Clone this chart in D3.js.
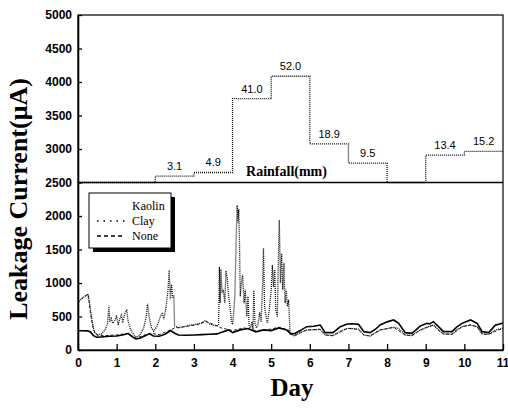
<!DOCTYPE html>
<html><head><meta charset="utf-8">
<script src="https://cdn.jsdelivr.net/npm/d3@7"></script>
<style>
html,body{margin:0;padding:0;background:#fff;}
svg{display:block;}
</style></head>
<body>
<svg id="chart" width="508" height="408"></svg>
<script>
// ---- data ----
const dayTicks = [0,1,2,3,4,5,6,7,8,9,10,11];
const yTicks = [0,500,1000,1500,2000,2500,3000,3500,4000,4500,5000];
const seriesNames = ["Kaolin","Clay","None"];

// rainfall per day (day i to i+1), mm
const rainStartDays = [0,1,2,3,4,5,6,7,8,9,10];
const rainfall = [0,0,3.1,4.9,41.0,52.0,18.9,9.5,0,13.4,15.2];

// leakage current (uA), [day, value]
const kaolin = [[0,288],[0.1,288],[0.25,285],[0.32,270],[0.4,215],[0.48,190],[0.6,195],[0.8,205],[1.0,210],[1.15,225],[1.3,245],[1.4,200],[1.5,165],[1.6,175],[1.75,215],[1.85,245],[1.95,210],[2.1,205],[2.25,235],[2.4,290],[2.5,250],[2.6,225],[2.8,220],[3.0,225],[3.2,230],[3.4,235],[3.6,240],[3.7,260],[3.9,300],[4.0,260],[4.2,300],[4.4,320],[4.6,270],[4.8,300],[5.0,290],[5.2,330],[5.4,300],[5.49,249],
[5.6,243],[5.75,290],[5.92,348],[6.1,355],[6.27,373],[6.4,259],[6.6,259],[6.79,348],[6.97,388],[7.1,392],[7.26,383],[7.4,274],[7.56,259],[7.7,310],[7.82,373],[8.0,420],[8.17,448],[8.3,398],[8.47,259],[8.64,249],[8.75,300],[8.86,358],[9.03,398],[9.1,390],[9.2,423],[9.33,348],[9.46,274],[9.68,274],[9.8,340],[9.94,398],[10.16,448],[10.33,398],[10.46,274],[10.63,259],[10.8,370],[10.98,398],[11,405]];

const clay = [[0,700],[0.05,740],[0.1,770],[0.15,790],[0.2,810],[0.26,835],[0.3,700],[0.34,520],[0.38,380],[0.43,260],[0.5,230],[0.6,235],[0.7,300],[0.76,380],[0.8,660],[0.82,420],[0.86,470],[0.9,400],[0.95,440],[1.0,500],[1.04,370],[1.08,460],[1.12,520],[1.16,430],[1.22,560],[1.26,590],[1.3,420],[1.38,280],[1.5,190],[1.6,220],[1.7,330],[1.76,480],[1.8,690],[1.84,500],[1.9,330],[1.96,280],[2.05,360],[2.12,480],[2.18,560],[2.22,460],[2.28,640],[2.33,900],[2.36,1190],[2.39,760],[2.42,980],[2.45,780],[2.48,820],[2.5,360],[2.6,330],[2.75,350],[2.9,370],[3.05,385],[3.2,400],[3.3,440],[3.4,390],[3.5,370],[3.6,360],[3.64,380],[3.66,1240],[3.68,700],[3.7,1210],[3.73,850],[3.76,900],[3.8,700],[3.83,1180],[3.86,1080],[3.9,800],[3.94,620],[3.97,450],[4.0,380],[4.03,560],[4.06,800],[4.1,1800],[4.12,2160],[4.14,1900],[4.16,2100],[4.18,1600],[4.2,800],[4.23,1000],[4.26,1120],[4.3,700],[4.33,900],[4.37,500],[4.4,800],[4.43,350],[4.47,330],[4.5,420],[4.53,300],[4.55,890],[4.58,400],[4.62,330],[4.66,380],[4.7,560],[4.74,420],[4.78,1000],[4.8,1520],[4.83,640],[4.87,500],[4.9,400],[4.95,600],[5.0,900],[5.03,1270],[5.06,940],[5.09,1200],[5.12,600],[5.16,500],[5.19,1500],[5.21,1940],[5.24,1000],[5.27,1440],[5.3,900],[5.33,1300],[5.36,700],[5.39,900],[5.42,650],[5.45,750],[5.49,240],
[5.6,214],[5.75,260],[5.92,299],[6.1,300],[6.27,309],[6.4,224],[6.6,214],[6.79,280],[6.97,323],[7.1,320],[7.26,309],[7.4,224],[7.56,209],[7.7,260],[7.82,299],[8.0,320],[8.17,338],[8.3,320],[8.47,224],[8.64,214],[8.75,260],[8.86,299],[9.03,338],[9.2,373],[9.33,299],[9.46,239],[9.68,234],[9.8,300],[9.94,348],[10.16,373],[10.33,348],[10.46,239],[10.63,234],[10.8,300],[10.98,323],[11,325]];

const none = [[0,700],[0.1,770],[0.2,810],[0.26,835],[0.32,560],[0.4,300],[0.5,215],[0.7,215],[1.0,225],[1.3,250],[1.5,175],[1.7,220],[1.9,250],[2.1,230],[2.4,300],[2.5,330],[2.8,350],[3.1,380],[3.3,430],[3.6,360],[3.7,330],[4.0,290],[4.3,330],[4.6,290],[4.9,300],[5.2,340],[5.45,300],[5.49,240],
[5.6,214],[5.92,299],[6.27,309],[6.4,224],[6.6,214],[6.97,323],[7.26,309],[7.4,224],[7.56,209],[7.82,299],[8.17,338],[8.47,224],[8.64,214],[8.86,299],[9.03,338],[9.2,373],[9.33,299],[9.46,239],[9.68,234],[9.94,348],[10.16,373],[10.33,348],[10.46,239],[10.63,234],[10.98,323],[11,325]];

// ---- layout ----
const svg = d3.select("#chart");
const L = 78, R = 503, T = 15, B = 350;
const x = d3.scaleLinear().domain([0,11]).range([L,R]);
const y = d3.scaleLinear().domain([0,5000]).range([B,T]);
const rainMax = 2500/30.5;
const yRain = d3.scaleLinear().domain([0,rainMax]).range([y(2500),y(5000)]);

const tickFont = "Liberation Sans, Arial, sans-serif";
const serif = "Liberation Serif, Times New Roman, serif";

// series
const line = d3.line().x(d=>x(d[0])).y(d=>y(d[1]));
const g = svg.append("g");
g.append("path").datum(none).attr("d",line).attr("fill","none")
 .attr("stroke","#222").attr("stroke-width",1).attr("stroke-dasharray","3,2");
g.append("path").datum(clay).attr("d",line).attr("fill","none")
 .attr("stroke","#111").attr("stroke-width",1.3).attr("stroke-dasharray","1,1");
g.append("path").datum(kaolin).attr("d",line).attr("fill","none")
 .attr("stroke","#000").attr("stroke-width",1.6);

// rainfall step line
const rainPts = rainStartDays.map((d,i)=>[d,rainfall[i]]).concat([[11,rainfall[rainfall.length-1]]]);
const rainLine = d3.line().x(d=>x(d[0])).y(d=>yRain(d[1])).curve(d3.curveStepAfter);
g.append("path").datum(rainPts).attr("d",rainLine).attr("fill","none")
 .attr("stroke","#111").attr("stroke-width",1.3).attr("stroke-dasharray","1,1");

g.selectAll("text.rain").data(rainStartDays.map((d,i)=>[d,rainfall[i]]).filter(d=>d[1]>0))
 .enter().append("text").attr("class","rain")
 .attr("x",d=>x(d[0]+0.5)).attr("y",d=>yRain(d[1])-6)
 .attr("text-anchor","middle").attr("font-family",tickFont).attr("font-size",11)
 .text(d=>d3.format(".1f")(d[1]));

svg.append("text").attr("x",286.5).attr("y",176).attr("text-anchor","middle")
 .attr("font-family",serif).attr("font-weight","bold").attr("font-size",14)
 .text("Rainfall(mm)");

// frame + divider
svg.append("rect").attr("x",L).attr("y",T).attr("width",R-L).attr("height",B-T)
 .attr("fill","none").attr("stroke","#000").attr("stroke-width",1.2);
svg.append("line").attr("x1",L).attr("x2",R).attr("y1",y(2500)).attr("y2",y(2500))
 .attr("stroke","#000").attr("stroke-width",1.6);

// axes
const yAxis = d3.axisLeft(y).tickValues(yTicks).tickSize(-4).tickSizeOuter(0).tickPadding(6).tickFormat(d3.format("d"));
const ya = svg.append("g").attr("transform",`translate(${L},0)`).call(yAxis);
const xAxis = d3.axisBottom(x).tickValues(dayTicks).tickSize(-6).tickSizeOuter(0).tickPadding(8).tickFormat(d3.format("d"));
const xa = svg.append("g").attr("transform",`translate(0,${B})`).call(xAxis);
[ya,xa].forEach(a=>{
  a.select(".domain").attr("stroke","#000").attr("stroke-width",1.6);
  a.selectAll(".tick line").attr("stroke","#000").attr("stroke-width",1.3);
  a.selectAll("text").attr("font-family",tickFont).attr("font-size",12).attr("font-weight","bold").attr("fill","#000");
});
// keep the last day label inside the picture
xa.selectAll(".tick").filter(d=>d===11).select("text").attr("text-anchor","end").attr("dx","6");

// legend
const lg = svg.append("g");
lg.append("rect").attr("x",93).attr("y",197).attr("width",82).attr("height",55).attr("fill","#000");
lg.append("rect").attr("x",89).attr("y",193).attr("width",82).attr("height",55).attr("fill","#fff").attr("stroke","#000").attr("stroke-width",1);
const legStyles = [null,"1.5,5","4,3"];
seriesNames.forEach((n,i)=>{
  const by = 210 + i*15;
  if(legStyles[i]) lg.append("line").attr("x1",97).attr("x2",125).attr("y1",by-4).attr("y2",by-4)
     .attr("stroke","#000").attr("stroke-width",1.3).attr("stroke-dasharray",legStyles[i]);
  lg.append("text").attr("x",132).attr("y",by).attr("font-family",serif).attr("font-size",12).text(n);
});

// titles
svg.append("text").attr("x",292).attr("y",396).attr("text-anchor","middle")
 .attr("font-family",serif).attr("font-weight","bold").attr("font-size",25).text("Day");
svg.append("text").attr("transform","translate(27,199) rotate(-90)").attr("text-anchor","middle")
 .attr("font-family",serif).attr("font-weight","bold").attr("font-size",26).text("Leakage Current(μA)");
</script>
</body></html>
